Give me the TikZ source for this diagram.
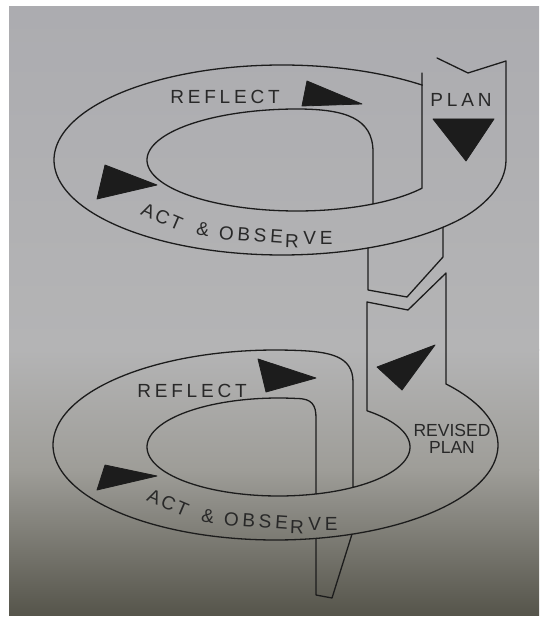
\documentclass[tikz,border=0pt]{standalone}
\usepackage{fontspec}
\newfontfamily\labfont{Liberation Sans}[LetterSpace=20]
\newfontfamily\actfont{Liberation Sans}[LetterSpace=12]
\newfontfamily\revfont{Liberation Sans}
\definecolor{ink}{RGB}{28,28,28}
\definecolor{txtc}{RGB}{40,40,40}
\definecolor{bgA}{RGB}{172,172,176}
\definecolor{bgB}{RGB}{180,180,181}
\definecolor{bgC}{RGB}{158,157,152}
\definecolor{bgD}{RGB}{86,85,75}
\begin{document}
\begin{tikzpicture}[x=1pt,y=-1pt,
  band/.style={draw=ink,line width=1.3pt,line join=round,line cap=round},
  tri/.style={fill=ink,draw=ink,line width=0.8pt,line join=round},
  lab/.style={text=txtc,inner sep=0pt,font=\labfont\fontsize{19}{19}\selectfont},
  actlab/.style={text=txtc,inner sep=0pt,font=\actfont\fontsize{19}{19}\selectfont},
  rev/.style={text=txtc,inner sep=0pt,font=\revfont\fontsize{17.5}{17.5}\selectfont}]
\useasboundingbox (0,0) rectangle (539,617);
\fill[white] (0,0) rectangle (539,617);
\shade[top color=bgA,bottom color=bgB] (9,7) rectangle (539,350);
\shade[top color=bgB,bottom color=bgC] (9,349.5) rectangle (539,470);
\shade[top color=bgC,bottom color=bgD] (9,469.5) rectangle (539,615);

% ---------- upper loop ----------
\coordinate (uA) at ({282+228*cos(67.84)},{160+95*sin(67.84)});
\coordinate (uB) at ({282+228*cos(45.08)},{160+95*sin(45.08)});
\draw[band] (373,204) -- (373,152) .. controls (373,118) and (345,109.5) .. (299.6,109)
  -- plot[domain=271:33.6,samples=120] ({297+150*cos(\x)},{160+51*sin(\x)}) -- (422,73);
\draw[band] plot[domain=-52:-320,samples=160] ({282+228*cos(\x)},{160+95*sin(\x)})
  .. controls (483.6,207.6) and (506,185) .. (506,160) -- (506,61) -- (468,73) -- (437,58);
\draw[band] (uA) -- (368,290) -- (407,297) -- (443,257) -- (uB);

% ---------- lower loop ----------
\coordinate (lA) at ({275.5+222.5*cos(79.5)},{445+95*sin(79.5)});
\coordinate (lB) at ({275.5+222.5*cos(69.9)},{445+95*sin(69.9)});
\draw[band] (316,494) -- (316,418) .. controls (316,405) and (312,398.5) .. (296.8,398.5)
  -- plot[domain=278:-47.7,samples=120] ({278.5+131.5*cos(\x)},{447+49*sin(\x)})
  -- (367,302) -- (408,310) -- (446,273) -- (446,383.9)
  -- plot[domain=-40:275,samples=160] ({275.5+222.5*cos(\x)},{445+95*sin(\x)})
  .. controls (330,351.5) and (353,356) .. (353,382) -- (353,487.4);
\draw[band] (lA) -- (316,595) -- (332,598) -- (lB);

% ---------- arrowheads ----------
\path[tri] (307,81) -- (302,106) -- (362,104) -- cycle;
\path[tri] (105,165) -- (97,199) -- (157,185) -- cycle;
\path[tri] (433,119) -- (494,119) -- (466,161) -- cycle;
\path[tri] (258,359) -- (266,392) -- (316,378) -- cycle;
\path[tri] (105,465) -- (97,490) -- (157,476) -- cycle;
\path[tri] (377,367) -- (435,345) -- (402,390) -- cycle;

% ---------- labels ----------
\node[lab] (r1) at (225,97) {REFLECT};
\node[lab] (p1) at (461,100) {PLAN};
\node[actlab,rotate=-23] (a1) at (162,217) {ACT};
\node[lab,rotate=-10] (m1) at (203,229) {\&};
\node[lab,rotate=-4] (o1) at (251,235) {OBSE};
\node[lab,rotate=-2] (s1) at (292,241) {R};
\node[lab] (v1) at (318,238) {VE};

\node[lab] (r2) at (192,391) {REFLECT};
\node[actlab,rotate=-23] (a2) at (168,503) {ACT};
\node[lab,rotate=-10] (m2) at (208,516) {\&};
\node[lab,rotate=-4] (o2) at (256,521) {OBSE};
\node[lab,rotate=-2] (s2) at (297,527) {R};
\node[lab] (v2) at (323,524) {VE};
\node[rev] (rv) at (452,430) {REVISED};
\node[rev] (pl) at (452,447) {PLAN};
\end{tikzpicture}
\end{document}
